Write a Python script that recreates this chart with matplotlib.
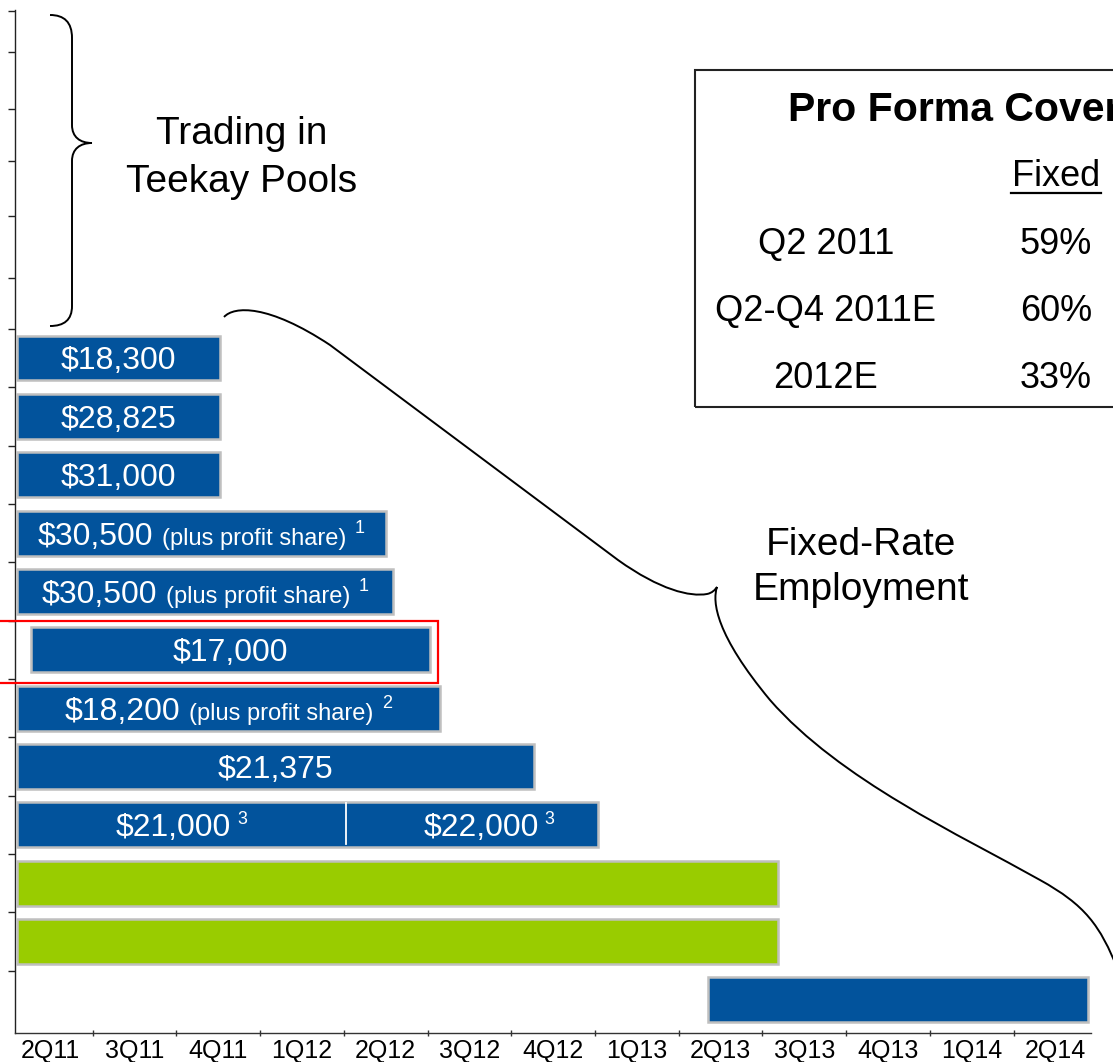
import matplotlib
matplotlib.use("Agg")
import matplotlib.pyplot as plt
from matplotlib.patches import Rectangle, PathPatch
from matplotlib.path import Path
from matplotlib.transforms import offset_copy
from matplotlib import font_manager as fm

# ---------------- data ----------------
quarters = ["2Q11", "3Q11", "4Q11", "1Q12", "2Q12", "3Q12", "4Q12",
            "1Q13", "2Q13", "3Q13", "4Q13", "1Q14", "2Q14"]

# contracts, top to bottom (x in quarters since start of 2Q11)
rate_main = ["$18,300", "$28,825", "$31,000", "$30,500", "$30,500", "$17,000",
             "$18,200", "$21,375", "$21,000", "", "", ""]
rate_note = ["", "", "", "(plus profit share)", "(plus profit share)", "",
             "(plus profit share)", "", "", "", "", ""]
rate_sup = ["", "", "", "1", "1", "", "2", "", "3", "", "", ""]
start_q = [0.09, 0.09, 0.09, 0.09, 0.10, 0.26, 0.09, 0.09, 0.09, 0.09, 0.09, 8.35]
end_q = [2.52, 2.52, 2.52, 4.50, 4.59, 5.03, 5.15, 6.27, 7.04, 9.18, 9.18, 12.89]
kind = ["blue"] * 9 + ["green", "green", "blue"]

# second step of the split contract
split_at = 4.03
split_label = "$22,000"
split_sup = "3"

coverage_period = ["Q2 2011", "Q2-Q4 2011E", "2012E"]
coverage_fixed = ["59%", "60%", "33%"]

# ---------------- style ----------------
W, H = 1113, 1062
BLUE = "#02539C"
GREEN = "#99CC00"
EDGE = "#BFBFBF"
names = {f.name for f in fm.fontManager.ttflist}
SANS = "Liberation Sans" if "Liberation Sans" in names else "DejaVu Sans"
NARROW = "Liberation Sans Narrow" if "Liberation Sans Narrow" in names else SANS
narrow_scale = 1.0 if NARROW != SANS else 0.85

fig = plt.figure(figsize=(W / 100, H / 100), dpi=100)
fig.patch.set_facecolor("white")

x0px, x1px, ytop, ybot = 15, 1090.7, 10, 1033
ax = fig.add_axes([x0px / W, 1 - ybot / H, (x1px - x0px) / W, (ybot - ytop) / H])

n = len(rate_main)
rows = list(range(n))
ax.set_xlim(0.072, 12.92)
ax.set_ylim(11.566, -5.963)

colors = [BLUE if k == "blue" else GREEN for k in kind]
ax.barh(rows, [e - s for s, e in zip(start_q, end_q)], left=start_q, height=0.77,
        color=colors, edgecolor=EDGE, linewidth=1.8, zorder=3)

# divider in split bar
idx_split = rate_main.index("$21,000")
ax.plot([split_at, split_at], [idx_split - 0.38, idx_split + 0.33], color="white", lw=1.3, zorder=4)

# axes styling
for s in ["top", "right"]:
    ax.spines[s].set_visible(False)
ax.spines["left"].set_color("#222222")
ax.spines["left"].set_linewidth(1.0)
ax.spines["bottom"].set_color("#333333")
ax.spines["bottom"].set_linewidth(1.0)
ax.set_xticks(range(1, 13))
ax.set_xticklabels([])
ax.set_xticks([i + 0.5 for i in range(len(quarters))], minor=True)
ax.set_xticklabels(quarters, minor=True, fontsize=18, family=SANS)
ax.tick_params(axis="x", which="major", direction="inout", length=5, width=1, color="#333333")
ax.tick_params(axis="x", which="minor", length=0, pad=4)
yt = [-5.95, -5.24, -4.27, -3.38, -2.44, -1.37] + [i - 0.5 for i in range(12)]
ax.set_yticks(yt)
ax.set_yticklabels([])
ax.tick_params(axis="y", direction="out", length=5, width=1, color="#222222")

renderer = fig.canvas.get_renderer()


def rich(xc, yc, parts, cap_pt):
    objs, widths = [], []
    for s, size, fam, rise, gap in parts:
        t = ax.text(xc, yc, s, fontsize=size, family=fam, color="white",
                    ha="left", va="baseline", zorder=5)
        objs.append(t)
        widths.append(t.get_window_extent(renderer).width * 72 / fig.dpi)
    total = sum(widths) + sum(p[4] for p in parts)
    x = -total / 2
    for t, w, p in zip(objs, widths, parts):
        x += p[4]
        t.set_transform(offset_copy(ax.transData, fig=fig, x=x, y=p[3] - cap_pt / 2, units="points"))
        x += w


MAIN = 23
for i in rows:
    if not rate_main[i]:
        continue
    if i == idx_split:
        sz = 27 * narrow_scale
        rich((start_q[i] + split_at) / 2, i,
             [(rate_main[i], sz, NARROW, 0, 0), (rate_sup[i], 15 * narrow_scale, NARROW, 9, 4)], 0.716 * sz)
        rich((split_at + end_q[i]) / 2 + 0.2, i,
             [(split_label, sz, NARROW, 0, 0), (split_sup, 15 * narrow_scale, NARROW, 9, 4)], 0.716 * sz)
        continue
    parts = [(rate_main[i], MAIN, SANS, 0, 0)]
    if rate_note[i]:
        parts.append((rate_note[i], 17, SANS, 0, 6))
    if rate_sup[i]:
        parts.append((rate_sup[i], 13, SANS, 8.5, 6))
    rich((start_q[i] + end_q[i]) / 2, i, parts, 0.716 * MAIN)

# highlight box around the $17,000 contract
hi = rate_main.index("$17,000")
ax.add_patch(Rectangle((-0.3, hi - 0.49), 5.13 + 0.3, 1.06, fill=False, edgecolor="#FF0000",
                       lw=1.6, clip_on=False, zorder=6))


# ---------------- annotations in figure pixels ----------------
def P(x, y):
    return (x / W, 1 - y / H)


def draw_path(segs, lw=1.4):
    verts, codes = [], []
    first = True
    for seg in segs:
        kindc, pts = seg
        if first:
            verts.append(P(*pts[0])); codes.append(Path.MOVETO)
            pts = pts[1:]
            first = False
        if kindc == "L":
            for p in pts:
                verts.append(P(*p)); codes.append(Path.LINETO)
        else:
            for p in pts:
                verts.append(P(*p)); codes.append(Path.CURVE4)
    fig.add_artist(PathPatch(Path(verts, codes), transform=fig.transFigure, fill=False,
                             edgecolor="black", lw=lw, zorder=10))


# left brace
draw_path([
    ("C", [(50, 15), (64, 15), (72, 22), (72, 38)]),
    ("L", [(72, 125)]),
    ("C", [(72, 137), (80, 143), (92, 143)]),
    ("C", [(80, 143), (72, 149), (72, 161)]),
    ("L", [(72, 306)]),
    ("C", [(72, 320), (64, 326), (50, 326)]),
])

# big brace for fixed-rate employment
draw_path([
    ("C", [(224, 317), (234, 306), (268, 304), (330, 345)]),
    ("L", [(618, 560)]),
    ("C", [(660, 590), (690, 597), (707, 594)]),
    ("C", [(712, 593), (715, 590), (717, 587)]),
    ("C", [(712, 602), (716, 635), (770, 700)]),
    ("C", [(840, 780), (960, 835), (1040, 880)]),
    ("C", [(1085, 905), (1100, 925), (1118, 970)]),
])

ft = dict(family=SANS, color="black")
fig.text(*P(242, 144), "Trading in", ha="center", va="baseline", fontsize=28, **ft)
fig.text(*P(242, 192), "Teekay Pools", ha="center", va="baseline", fontsize=28, **ft)
fig.text(*P(861, 555), "Fixed-Rate", ha="center", va="baseline", fontsize=28, **ft)
fig.text(*P(861, 600), "Employment", ha="center", va="baseline", fontsize=28, **ft)

# coverage table
fig.add_artist(Rectangle(P(695, 407), (1130 - 695) / W, (407 - 70) / H, transform=fig.transFigure,
                         fill=False, edgecolor="#222222", lw=1.5, zorder=10))
fig.text(*P(788, 121), "Pro Forma Coverage", ha="left", va="baseline", fontsize=29.5,
         fontweight="bold", **ft)
fig.text(*P(1056, 186), "Fixed", ha="center", va="baseline", fontsize=26, **ft)
fig.add_artist(plt.Line2D([1011 / W, 1101 / W], [1 - 193 / H] * 2, transform=fig.transFigure,
                          color="black", lw=1.6))
base = [254, 321, 388]
for per, fx, b in zip(coverage_period, coverage_fixed, base):
    fig.text(*P(826, b), per, ha="center", va="baseline", fontsize=26, **ft)
    fig.text(*P(1056, b), fx, ha="center", va="baseline", fontsize=26, **ft)

fig.savefig("out.png", dpi=100)
